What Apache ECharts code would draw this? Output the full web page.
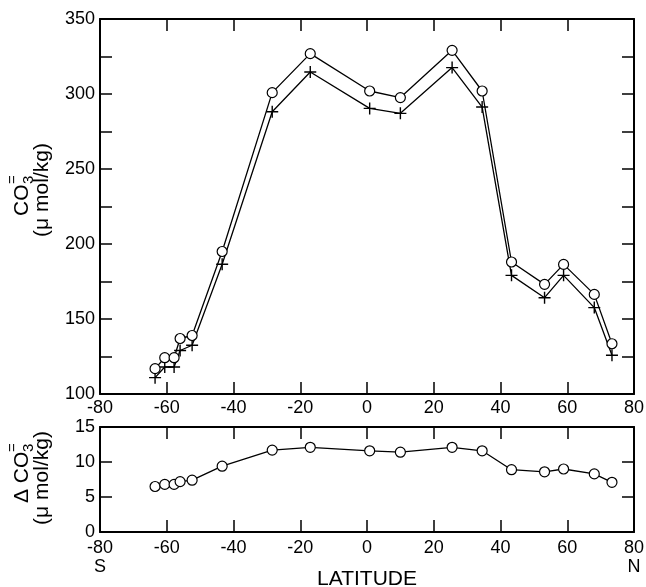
<!DOCTYPE html>
<html><head><meta charset="utf-8">
<script src="https://cdn.jsdelivr.net/npm/echarts@6/dist/echarts.min.js"></script>
<style>html,body{margin:0;padding:0;background:#fff}#c{width:646px;height:587px}</style>
</head><body><div id="c"></div>
<script>
// Data
const latitude   = [-63.5, -60.6, -57.8, -56.0, -52.4, -43.4, -28.4, -17.0, 0.8, 10.0, 25.5, 34.5, 43.3, 53.2, 58.9, 68.1, 73.4];
const co3Circles = [116.9, 124.2, 124.2, 137.0, 139.0, 195.0, 300.9, 326.9, 302.0, 297.6, 329.1, 302.0, 188.0, 173.1, 186.4, 166.4, 133.5];
const co3Crosses = [110.9, 118.0, 118.0, 129.0, 132.5, 186.5, 288.2, 314.7, 290.4, 287.1, 317.6, 291.3, 179.1, 164.2, 179.1, 157.6, 125.8];
const deltaCo3   = [6.5, 6.8, 6.8, 7.2, 7.4, 9.4, 11.7, 12.1, 11.6, 11.4, 12.1, 11.6, 8.9, 8.6, 9.0, 8.3, 7.1];
const hemisphereLabels = { '-80': 'S', '80': 'N' };
const xAxisTitle = 'LATITUDE';
const unitLabel = '(\u03bc mol/kg)';

const FONT = 'Liberation Sans, Arial, Helvetica, sans-serif';
const chart = echarts.init(document.getElementById('c'), null, { renderer: 'canvas' });

function axisBase(extra) {
  return Object.assign({
    type: 'value',
    axisLine: { show: true, onZero: false, lineStyle: { color: '#000', width: 2 } },
    axisTick: { show: true, inside: true, length: 12, lineStyle: { color: '#000', width: 1.5 } },
    axisLabel: { show: true, color: '#000', fontSize: 18, fontFamily: FONT, margin: 5 },
    splitLine: { show: false }
  }, extra);
}
const noLabel = { show: false };

const plusPath = 'path://M0,6H12M6,0V12';

function rotText(x, y, text, size, align) {
  return {
    type: 'text', x: x, y: y, rotation: Math.PI / 2,
    style: { text: text, fontSize: size, fontFamily: FONT, fill: '#000', align: align || 'center', verticalAlign: 'middle' }
  };
}

const option = {
  animation: false,
  backgroundColor: '#fff',
  grid: [
    { left: 100, right: 12, top: 19, height: 375, outerBoundsMode: 'none', containLabel: false },
    { left: 100, right: 12, top: 427, height: 105, outerBoundsMode: 'none', containLabel: false }
  ],
  xAxis: [
    axisBase({ gridIndex: 0, min: -80, max: 80, interval: 20, position: 'bottom' }),
    axisBase({ gridIndex: 0, min: -80, max: 80, interval: 20, position: 'top', axisLabel: noLabel }),
    axisBase({
      gridIndex: 1, min: -80, max: 80, interval: 20, position: 'bottom',
      axisLabel: {
        show: true, color: '#000', fontSize: 18, fontFamily: FONT, margin: 7, lineHeight: 19,
        formatter: v => hemisphereLabels[String(v)] ? v + '\n' + hemisphereLabels[String(v)] : String(v)
      },
      name: xAxisTitle, nameLocation: 'middle', nameGap: 37, nameMoveOverlap: false,
      nameTextStyle: { color: '#000', fontSize: 21, fontFamily: FONT }
    }),
    axisBase({ gridIndex: 1, min: -80, max: 80, interval: 20, position: 'top', axisLabel: noLabel })
  ],
  yAxis: [
    axisBase({
      gridIndex: 0, min: 100, max: 350, interval: 25, position: 'left',
      axisLabel: { show: true, color: '#000', fontSize: 18, fontFamily: FONT, margin: 5,
        formatter: v => (v % 50 === 0 ? String(v) : '') }
    }),
    axisBase({ gridIndex: 0, min: 100, max: 350, interval: 25, position: 'right', axisLabel: noLabel }),
    axisBase({ gridIndex: 1, min: 0, max: 15, interval: 5, position: 'left' }),
    axisBase({ gridIndex: 1, min: 0, max: 15, interval: 5, position: 'right', axisLabel: noLabel })
  ],
  series: [
    {
      type: 'line', xAxisIndex: 0, yAxisIndex: 0, z: 3,
      data: latitude.map((x, i) => [x, co3Crosses[i]]),
      symbol: plusPath, symbolSize: 12,
      lineStyle: { color: '#000', width: 1.3 },
      itemStyle: { color: 'none', borderColor: '#000', borderWidth: 1.4 }
    },
    {
      type: 'line', xAxisIndex: 0, yAxisIndex: 0, z: 4,
      data: latitude.map((x, i) => [x, co3Circles[i]]),
      symbol: 'circle', symbolSize: 10,
      lineStyle: { color: '#000', width: 1.3 },
      itemStyle: { color: '#fff', borderColor: '#000', borderWidth: 1.2 }
    },
    {
      type: 'line', xAxisIndex: 2, yAxisIndex: 2, z: 4,
      data: latitude.map((x, i) => [x, deltaCo3[i]]),
      symbol: 'circle', symbolSize: 10,
      lineStyle: { color: '#000', width: 1.3 },
      itemStyle: { color: '#fff', borderColor: '#000', borderWidth: 1.2 }
    }
  ],
  graphic: [
    // Top panel y title: CO3= / (μ mol/kg)
    rotText(22, 216, 'CO', 21, 'left'),
    rotText(29, 184, '3', 15, 'left'),
    rotText(13, 184, '=', 15, 'left'),
    rotText(42, 190, unitLabel, 21, 'center'),
    // Bottom panel y title: ΔCO3= / (μ mol/kg)
    rotText(22, 503, '\u0394 CO', 21, 'left'),
    rotText(29, 452, '3', 15, 'left'),
    rotText(13, 452, '=', 15, 'left'),
    rotText(42, 478, unitLabel, 21, 'center')
  ]
};
chart.setOption(option);
</script>
</body></html>
